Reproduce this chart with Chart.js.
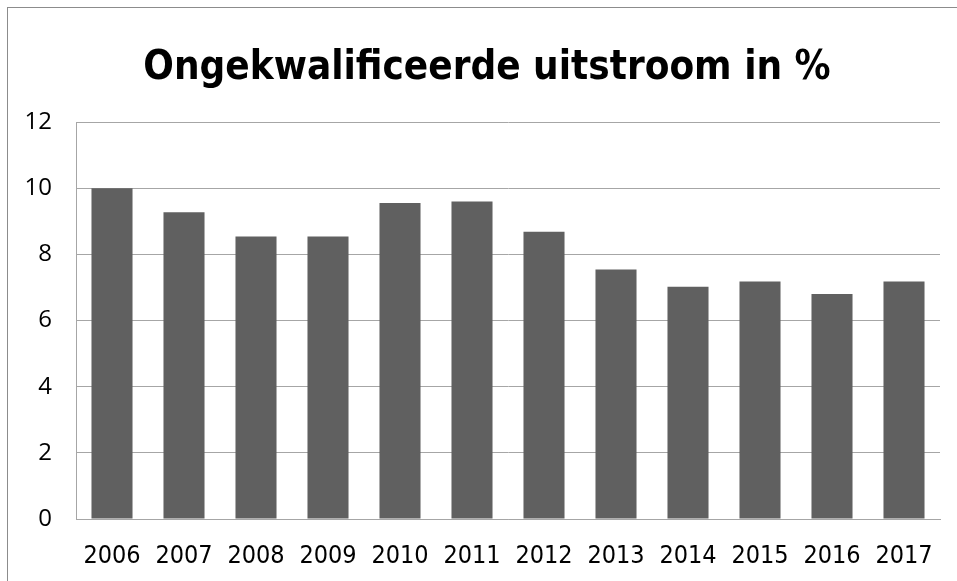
<!DOCTYPE html>
<html>
<head>
<meta charset="utf-8">
<script src="https://cdn.jsdelivr.net/npm/chart.js@4.4.0/dist/chart.umd.min.js"></script>
<style>
  html, body { margin: 0; padding: 0; background: #fff; }
  #wrap { position: relative; width: 957px; height: 581px; }
</style>
</head>
<body>
<div id="wrap"><canvas id="chart" width="957" height="581"></canvas></div>
<script>
var chartTitle = 'Ongekwalificeerde uitstroom in %';
var years = ['2006', '2007', '2008', '2009', '2010', '2011', '2012', '2013', '2014', '2015', '2016', '2017'];
var uitstroom = [10.0, 9.27, 8.54, 8.54, 9.55, 9.6, 8.68, 7.54, 7.02, 7.18, 6.8, 7.18];
var yTicks = [0, 2, 4, 6, 8, 10, 12];

var narrow = "'Liberation Sans Narrow', 'DejaVu Sans Condensed', 'Open Sans', sans-serif";

// frame + title, drawn like the excel chart
var framePlugin = {
  id: 'frame',
  beforeDraw: function(chart) {
    var ctx = chart.ctx;
    ctx.save();
    ctx.fillStyle = '#fff';
    ctx.fillRect(0, 0, chart.width, chart.height);
    ctx.strokeStyle = '#8c8c8c';
    ctx.lineWidth = 1;
    ctx.strokeRect(7.5, 7.5, 1000, 1000);
    ctx.fillStyle = '#000';
    ctx.font = 'bold 40px ' + narrow;
    ctx.textAlign = 'center';
    ctx.textBaseline = 'alphabetic';
    ctx.fillText(chartTitle, 487, 79);
    ctx.restore();
  }
};

var ctx = document.getElementById('chart');
var barGraph = new Chart(ctx, {
  type: 'bar',
  data: {
    labels: years,
    datasets: [{
      label: chartTitle,
      data: uitstroom,
      backgroundColor: '#606060',
      borderWidth: 0,
      barPercentage: 0.57,
      categoryPercentage: 1
    }]
  },
  plugins: [framePlugin],
  options: {
    responsive: false,
    animation: false,
    layout: { padding: { top: 122, right: 17, left: 0, bottom: 0 } },
    plugins: {
      legend: { display: false },
      title: { display: false },
      tooltip: { enabled: false }
    },
    scales: {
      x: {
        grid: { display: false, drawTicks: false },
        border: { display: true, color: '#a6a6a6', width: 1 },
        ticks: { color: '#000', font: { family: narrow, size: 25 }, padding: 22, maxRotation: 0, autoSkip: false },
        afterFit: function(scale) { scale.height = 62; }
      },
      y: {
        min: 0,
        max: 12,
        afterBuildTicks: function(scale) {
          scale.ticks = yTicks.map(function(v) { return { value: v }; });
        },
        grid: { color: '#a6a6a6', drawTicks: false },
        border: { display: true, color: '#a6a6a6', width: 1 },
        ticks: { color: '#000', font: { family: "'Open Sans', sans-serif", size: 24 }, padding: 24 },
        afterFit: function(scale) { scale.width = 76; }
      }
    }
  }
});
</script>
</body>
</html>
